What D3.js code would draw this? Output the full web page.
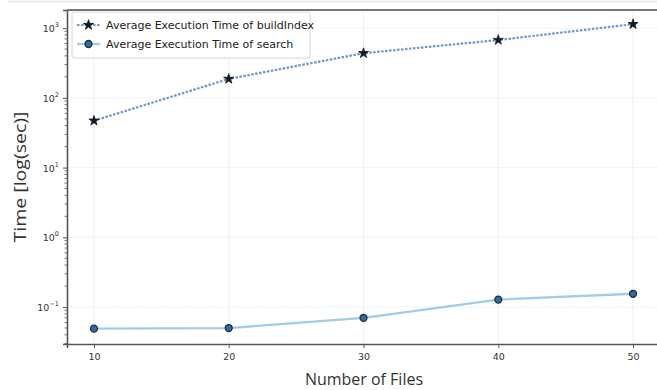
<!DOCTYPE html>
<html>
<head>
<meta charset="utf-8">
<script src="https://cdn.jsdelivr.net/npm/d3@7"></script>
<style>
  body { margin: 0; background: #fff; }
  svg { display: block; font-family: "DejaVu Sans", sans-serif; }
</style>
</head>
<body>
<div id="chart"></div>
<script>
// data
var files = [10, 20, 30, 40, 50];
var buildIndexTime = [47, 187, 437, 675, 1140];
var searchTime = [0.049, 0.050, 0.070, 0.128, 0.155];
var seriesNames = ["Average Execution Time of buildIndex", "Average Execution Time of search"];
var yTickVals = [0.1, 1, 10, 100, 1000];
var yTickExp = ["\u22121", "0", "1", "2", "3"];

var w = 657, h = 390;
var plotL = 67, plotT = 10, plotR = 660, plotB = 344;

var svg = d3.select("#chart").append("svg")
  .attr("width", w)
  .attr("height", h);

var x = d3.scaleLinear().domain([8, 52]).range([plotL, plotR]);
var y = d3.scaleLog().domain([Math.pow(10, -1.53), Math.pow(10, 3.26)]).range([plotB, plotT]);

// faint frame line at the very top
svg.append("line")
  .attr("x1", 8).attr("x2", w).attr("y1", 1.5).attr("y2", 1.5)
  .attr("stroke", "#e6e6e6").attr("stroke-width", 1.5);

// grid
svg.append("g")
  .selectAll("line")
  .data(files)
  .join("line")
  .attr("x1", function(d) { return x(d); })
  .attr("x2", function(d) { return x(d); })
  .attr("y1", plotT).attr("y2", plotB)
  .attr("stroke", "#e6ecf5").attr("stroke-width", 0.8);

svg.append("g")
  .selectAll("line")
  .data(yTickVals)
  .join("line")
  .attr("x1", plotL).attr("x2", w)
  .attr("y1", function(d) { return y(d); })
  .attr("y2", function(d) { return y(d); })
  .attr("stroke", "#e6ecf5").attr("stroke-width", 0.8)
  .attr("stroke-dasharray", "2,1");

// axes
var xAxis = d3.axisBottom(x).tickValues(files).tickSize(4).tickPadding(5);
var gx = svg.append("g").attr("transform", "translate(0," + plotB + ")").call(xAxis);
gx.select(".domain").attr("stroke", "#555").attr("stroke-width", 1.6);
gx.selectAll(".tick line").attr("stroke", "#555");
gx.selectAll(".tick text").attr("fill", "#333").attr("font-size", 9.5)
  .attr("font-family", "'DejaVu Sans', sans-serif");

var yAxis = d3.axisLeft(y).tickValues(yTickVals).tickSize(4).tickPadding(6).tickFormat("");
var gy = svg.append("g").attr("transform", "translate(" + plotL + ",0)").call(yAxis);
gy.select(".domain").attr("stroke", "#555").attr("stroke-width", 1.6);
gy.selectAll(".tick line").attr("stroke", "#555");

// minor ticks
var minor = [];
var yd = y.domain();
for (var e = -2; e <= 3; e++) {
  for (var m = 2; m <= 9; m++) {
    var v = m * Math.pow(10, e);
    if (v > yd[0] && v < yd[1]) minor.push(v);
  }
}
gy.append("g").selectAll("line")
  .data(minor)
  .join("line")
  .attr("x1", -2.5).attr("x2", 0)
  .attr("y1", function(d) { return y(d); })
  .attr("y2", function(d) { return y(d); })
  .attr("stroke", "#555").attr("stroke-width", 0.8);

// y tick labels as 10^n
var yl = svg.append("g");
yTickVals.forEach(function(v, i) {
  var t = yl.append("text")
    .attr("x", plotL - 8)
    .attr("y", y(v) + 4)
    .attr("text-anchor", "end")
    .attr("fill", "#333")
    .attr("font-size", 9.5);
  t.append("tspan").text("10");
  t.append("tspan").attr("dy", -5).attr("font-size", 6.5).text(yTickExp[i]);
});

// top spine
svg.append("line")
  .attr("x1", plotL).attr("x2", w).attr("y1", plotT).attr("y2", plotT)
  .attr("stroke", "#777").attr("stroke-width", 1.8);

// series
var line = d3.line()
  .x(function(d) { return x(d[0]); })
  .y(function(d) { return y(d[1]); });

var buildData = d3.zip(files, buildIndexTime);
var searchData = d3.zip(files, searchTime);

svg.append("path")
  .datum(searchData)
  .attr("d", line)
  .attr("fill", "none")
  .attr("stroke", "#a3cbe8")
  .attr("stroke-width", 2.3);

svg.append("path")
  .datum(buildData)
  .attr("d", line)
  .attr("fill", "none")
  .attr("stroke", "#6c98cc")
  .attr("stroke-width", 2.2)
  .attr("stroke-dasharray", "2.5,1.5");

var star = d3.symbol().type(d3.symbolStar).size(32);
var circle = d3.symbol().type(d3.symbolCircle).size(38);

svg.append("g").selectAll("path")
  .data(buildData)
  .join("path")
  .attr("transform", function(d) { return "translate(" + x(d[0]) + "," + y(d[1]) + ")"; })
  .attr("d", star)
  .attr("fill", "#141a24")
  .attr("stroke", "#141a24")
  .attr("stroke-width", 0.8);

svg.append("g").selectAll("path")
  .data(searchData)
  .join("path")
  .attr("transform", function(d) { return "translate(" + x(d[0]) + "," + y(d[1]) + ")"; })
  .attr("d", circle)
  .attr("fill", "#2d6c9f")
  .attr("stroke", "#1c2e44")
  .attr("stroke-width", 1.3);

// legend
var lg = svg.append("g").attr("transform", "translate(72,12)");
lg.append("rect")
  .attr("width", 238).attr("height", 46).attr("rx", 2)
  .attr("fill", "#fff").attr("fill-opacity", 0.85)
  .attr("stroke", "#d8d8d8");

lg.append("line")
  .attr("x1", 5).attr("x2", 28).attr("y1", 13).attr("y2", 13)
  .attr("stroke", "#6c98cc").attr("stroke-width", 2.2).attr("stroke-dasharray", "2.5,1.5");
lg.append("path").attr("transform", "translate(16.5,13)").attr("d", star)
  .attr("fill", "#141a24").attr("stroke", "#141a24").attr("stroke-width", 0.8);

lg.append("line")
  .attr("x1", 5).attr("x2", 28).attr("y1", 32).attr("y2", 32)
  .attr("stroke", "#a3cbe8").attr("stroke-width", 2.3);
lg.append("path").attr("transform", "translate(16.5,32)").attr("d", circle)
  .attr("fill", "#2d6c9f").attr("stroke", "#1c2e44").attr("stroke-width", 1.3);

lg.selectAll("text.leg")
  .data(seriesNames)
  .join("text")
  .attr("class", "leg")
  .attr("x", 34)
  .attr("y", function(d, i) { return 17 + i * 19; })
  .attr("fill", "#222")
  .attr("font-size", 11)
  .text(function(d) { return d; });

// axis labels
svg.append("text")
  .attr("x", 364).attr("y", 385)
  .attr("text-anchor", "middle")
  .attr("fill", "#333")
  .attr("font-size", 16)
  .attr("font-family", "'Open Sans', sans-serif")
  .attr("textLength", 118)
  .attr("lengthAdjust", "spacingAndGlyphs")
  .text("Number of Files");

svg.append("text")
  .attr("transform", "translate(26,177) rotate(-90)")
  .attr("text-anchor", "middle")
  .attr("fill", "#333")
  .attr("font-size", 16)
  .attr("font-family", "'Open Sans', sans-serif")
  .attr("textLength", 131)
  .attr("lengthAdjust", "spacingAndGlyphs")
  .text("Time [log(sec)]");
</script>
</body>
</html>
